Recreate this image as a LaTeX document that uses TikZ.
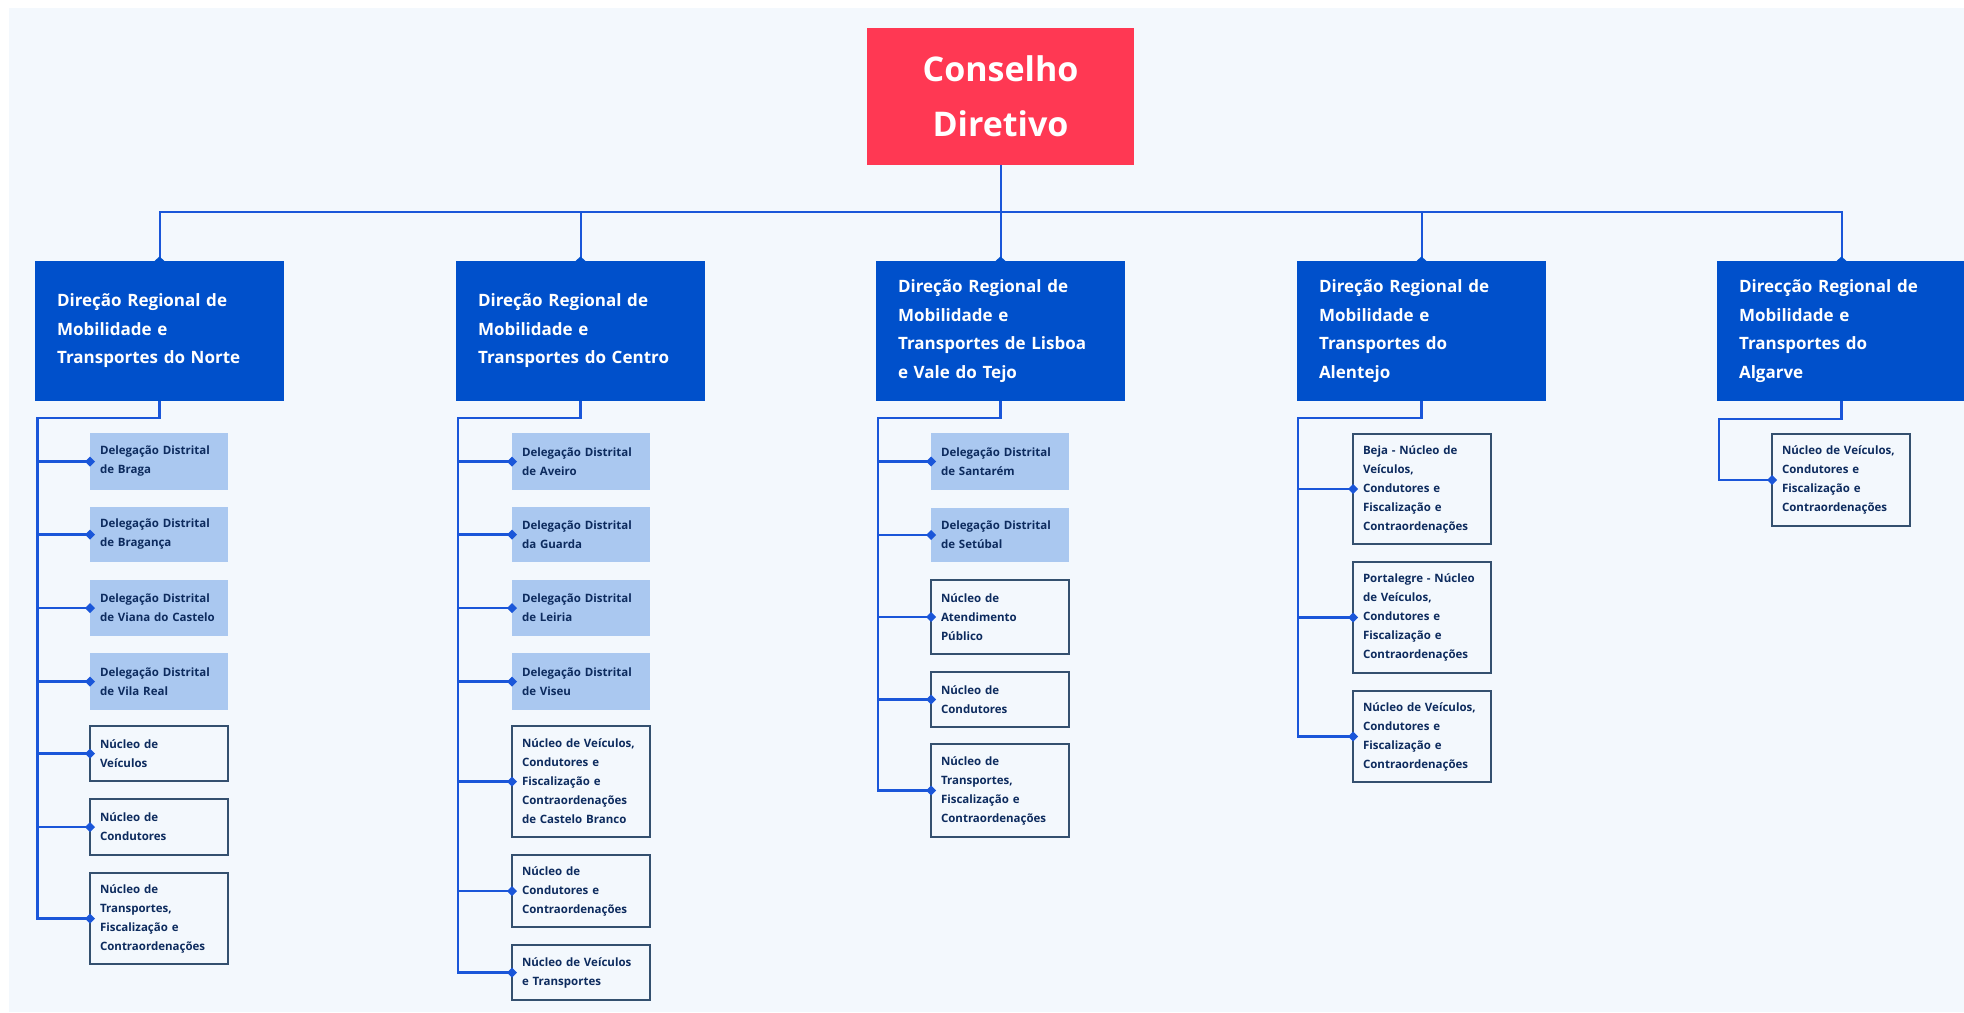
\documentclass[tikz,border=0pt]{standalone}
\usepackage{fontspec}
\setmainfont{Open Sans}
\usetikzlibrary{shapes.geometric}
\definecolor{bgc}{HTML}{F3F8FD}
\definecolor{redc}{HTML}{FF3853}
\definecolor{rblue}{HTML}{0050CB}
\definecolor{lblue}{HTML}{AAC8F0}
\definecolor{navy}{HTML}{0D2B5E}
\definecolor{bord}{HTML}{34506F}
\definecolor{linec}{HTML}{1A56D9}
\tikzset{
  topbox/.style={fill=redc, text=white, font=\fontsize{34}{55}\selectfont\bfseries, anchor=north west, minimum width=267, minimum height=137, inner sep=0, outer sep=0, align=center},
  regbox/.style={fill=rblue, text=white, font=\fontsize{17}{28.5}\selectfont\bfseries, anchor=north west, minimum width=249, minimum height=140, text width=205, inner xsep=22, inner ysep=0, outer sep=0, align=left},
  delbox/.style={fill=lblue, text=navy, font=\fontsize{11.5}{19}\selectfont\bfseries, anchor=north west, minimum width=138, text width=118, inner xsep=10, inner ysep=0, outer sep=0, align=left},
  nucbox/.style={delbox, fill=bgc, draw=bord, line width=1.5},
  bus/.style={draw=linec, line width=2},
  sub/.style={draw=linec, line width=2.6},
  dmd/.style={diamond, fill=linec, minimum width=10, minimum height=10, inner sep=0, outer sep=0},
  tdmd/.style={diamond, fill=rblue, minimum width=10, minimum height=9, inner sep=0, outer sep=0},
}
\begin{document}
\begin{tikzpicture}[x=1pt,y=-1pt]
\useasboundingbox (0,0) rectangle (1964,1012);
\fill[white] (0,0) rectangle (1964,1012);
\fill[bgc] (9,8) rectangle (1964,1012);

% top
\node[topbox] (cd) at (867,28) {Conselho\\Diretivo};

% regional boxes
\node[regbox] (nor) at (35,261) {Direção Regional de\\Mobilidade e\\Transportes do Norte};
\node[regbox] (cen) at (456,261) {Direção Regional de\\Mobilidade e\\Transportes do Centro};
\node[regbox] (lis) at (876,261) {Direção Regional de\\Mobilidade e\\Transportes de Lisboa\\e Vale do Tejo};
\node[regbox] (ale) at (1297,261) {Direção Regional de\\Mobilidade e\\Transportes do\\Alentejo};
\node[regbox] (alg) at (1717,261) {Direcção Regional de\\Mobilidade e\\Transportes do\\Algarve};

\coordinate (busy) at (0,212);
\draw[bus] (nor.north) -- (nor.north |- busy) -- (alg.north |- busy) -- (alg.north);
\draw[bus] (cd.south) -- (lis.north);
\draw[bus] (cen.north) -- (cen.north |- busy);
\draw[bus] (ale.north) -- (ale.north |- busy);
\foreach \r in {nor,cen,lis,ale,alg} \node[tdmd] (t\r) at (\r.north) {};

% Norte column
\node[delbox, minimum height=57] (n1) at (90,433) {Delegação~Distrital\\de Braga};
\node[delbox, minimum height=55] (n2) at (90,507) {Delegação~Distrital\\de Bragança};
\node[delbox, minimum height=56] (n3) at (90,580) {Delegação~Distrital\\de~Viana~do~Castelo};
\node[delbox, minimum height=57] (n4) at (90,653) {Delegação~Distrital\\de Vila Real};
\node[nucbox, minimum height=55] (n5) at (90,726) {Núcleo de\\Veículos};
\node[nucbox, minimum height=56] (n6) at (90,799) {Núcleo de\\Condutores};
\node[nucbox, minimum height=91] (n7) at (90,873) {Núcleo de\\Transportes,\\Fiscalização e\\Contraordenações};

% Centro column
\node[delbox, minimum height=57] (c1) at (512,433) {Delegação~Distrital\\de Aveiro};
\node[delbox, minimum height=55] (c2) at (512,507) {Delegação~Distrital\\da Guarda};
\node[delbox, minimum height=56] (c3) at (512,580) {Delegação~Distrital\\de Leiria};
\node[delbox, minimum height=57] (c4) at (512,653) {Delegação~Distrital\\de Viseu};
\node[nucbox, minimum height=111] (c5) at (512,726) {Núcleo~de~Veículos,\\Condutores e\\Fiscalização e\\Contraordenações\\de~Castelo~Branco};
\node[nucbox, minimum height=72] (c6) at (512,855) {Núcleo de\\Condutores e\\Contraordenações};
\node[nucbox, minimum height=55] (c7) at (512,945) {Núcleo~de~Veículos\\e Transportes};

% Lisboa column
\node[delbox, minimum height=57] (l1) at (931,433) {Delegação~Distrital\\de Santarém};
\node[delbox, minimum height=54] (l2) at (931,508) {Delegação~Distrital\\de Setúbal};
\node[nucbox, minimum height=74] (l3) at (931,580) {Núcleo de\\Atendimento\\Público};
\node[nucbox, minimum height=55] (l4) at (931,672) {Núcleo de\\Condutores};
\node[nucbox, minimum height=93] (l5) at (931,744) {Núcleo de\\Transportes,\\Fiscalização e\\Contraordenações};

% Alentejo column
\node[nucbox, minimum height=110] (a1) at (1353,434) {Beja~-~Núcleo~de\\Veículos,\\Condutores e\\Fiscalização e\\Contraordenações};
\node[nucbox, minimum height=111] (a2) at (1353,562) {Portalegre~-~Núcleo\\de Veículos,\\Condutores e\\Fiscalização e\\Contraordenações};
\node[nucbox, minimum height=91] (a3) at (1353,691) {Núcleo~de~Veículos,\\Condutores e\\Fiscalização e\\Contraordenações};

% Algarve column
\node[nucbox, minimum height=92] (g1) at (1772,434) {Núcleo~de~Veículos,\\Condutores e\\Fiscalização e\\Contraordenações};

% spines
\coordinate (nS) at (37.5,418);
\coordinate (cS) at (458,418);
\coordinate (lS) at (878,418);
\coordinate (aS) at (1298,418);
\coordinate (gS) at (1719,419);

\draw[sub] (nor.south) |- (nS) |- (n7.west);
\foreach \k in {1,...,6} \draw[sub] (nS |- n\k.west) -- (n\k.west);
\draw[sub] (cen.south) |- (cS) |- (c7.west);
\foreach \k in {1,...,6} \draw[sub] (cS |- c\k.west) -- (c\k.west);
\draw[sub] (lis.south) |- (lS) |- (l5.west);
\foreach \k in {1,...,4} \draw[sub] (lS |- l\k.west) -- (l\k.west);
\draw[sub] (ale.south) |- (aS) |- (a3.west);
\foreach \k in {1,2} \draw[sub] (aS |- a\k.west) -- (a\k.west);
\draw[sub] (alg.south) |- (gS) |- (g1.west);

\foreach \b in {n1,n2,n3,n4,n5,n6,n7,c1,c2,c3,c4,c5,c6,c7,l1,l2,l3,l4,l5,a1,a2,a3,g1}
  \node[dmd] (d\b) at (\b.west) {};
\end{tikzpicture}
\end{document}
